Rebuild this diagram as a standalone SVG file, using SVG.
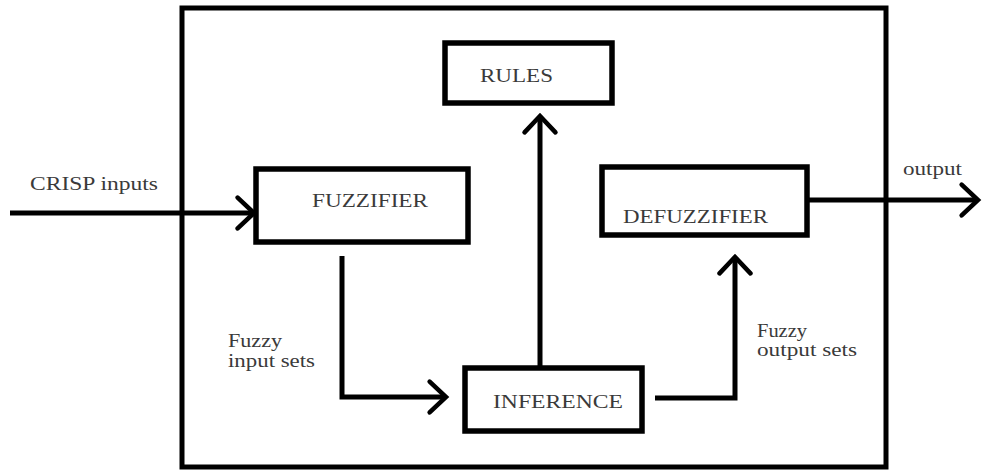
<svg xmlns="http://www.w3.org/2000/svg" width="982" height="471" viewBox="0 0 982 471">
<style>
.box{fill:#fff;stroke:#000;stroke-width:5.5}
.frame{fill:none;stroke:#000;stroke-width:5}
.con{fill:none;stroke:#000;stroke-width:5;stroke-linejoin:miter;marker-end:url(#arr)}
text{font-family:"Liberation Serif","Times New Roman",serif;font-size:18px;fill:#3a3a3a}
</style>
<defs>
<marker id="arr" markerUnits="userSpaceOnUse" markerWidth="40" markerHeight="40" viewBox="-24 -22 28 44" refX="0" refY="0" orient="auto">
<path d="M-18,-17 L0,0 L-18,17" fill="none" stroke="#000" stroke-width="5" stroke-linecap="round" stroke-linejoin="miter"/>
</marker>
</defs>
<rect class="frame" x="182" y="8" width="704" height="459"/>
<g id="connectors">
<path class="con" d="M10,213 L254,213"/>
<path class="con" d="M342,256 L342,397 L446,397"/>
<path class="con" d="M540,366 L540,116"/>
<path class="con" d="M655,398 L735,398 L735,257"/>
<path class="con" d="M808,200 L978,200"/>
</g>
<g id="rules">
<rect class="box" x="445" y="43" width="167" height="60"/>
<text x="480" y="82" textLength="73" lengthAdjust="spacingAndGlyphs">RULES</text>
</g>
<g id="fuzzifier">
<rect class="box" x="256" y="169" width="212" height="73"/>
<text x="312" y="207" textLength="116" lengthAdjust="spacingAndGlyphs">FUZZIFIER</text>
</g>
<g id="defuzzifier">
<rect class="box" x="602" y="167" width="205" height="68"/>
<text x="623" y="223" textLength="145" lengthAdjust="spacingAndGlyphs">DEFUZZIFIER</text>
</g>
<g id="inference">
<rect class="box" x="465" y="368" width="177" height="63"/>
<text x="493" y="408" textLength="130" lengthAdjust="spacingAndGlyphs">INFERENCE</text>
</g>
<g id="labels">
<text x="30" y="190" textLength="128" lengthAdjust="spacingAndGlyphs">CRISP inputs</text>
<text x="903" y="175" textLength="59" lengthAdjust="spacingAndGlyphs">output</text>
<text x="228" y="347" textLength="54" lengthAdjust="spacingAndGlyphs">Fuzzy</text>
<text x="228" y="367" textLength="87" lengthAdjust="spacingAndGlyphs">input sets</text>
<text x="757" y="337" textLength="50" lengthAdjust="spacingAndGlyphs">Fuzzy</text>
<text x="757" y="356" textLength="100" lengthAdjust="spacingAndGlyphs">output sets</text>
</g>
</svg>
